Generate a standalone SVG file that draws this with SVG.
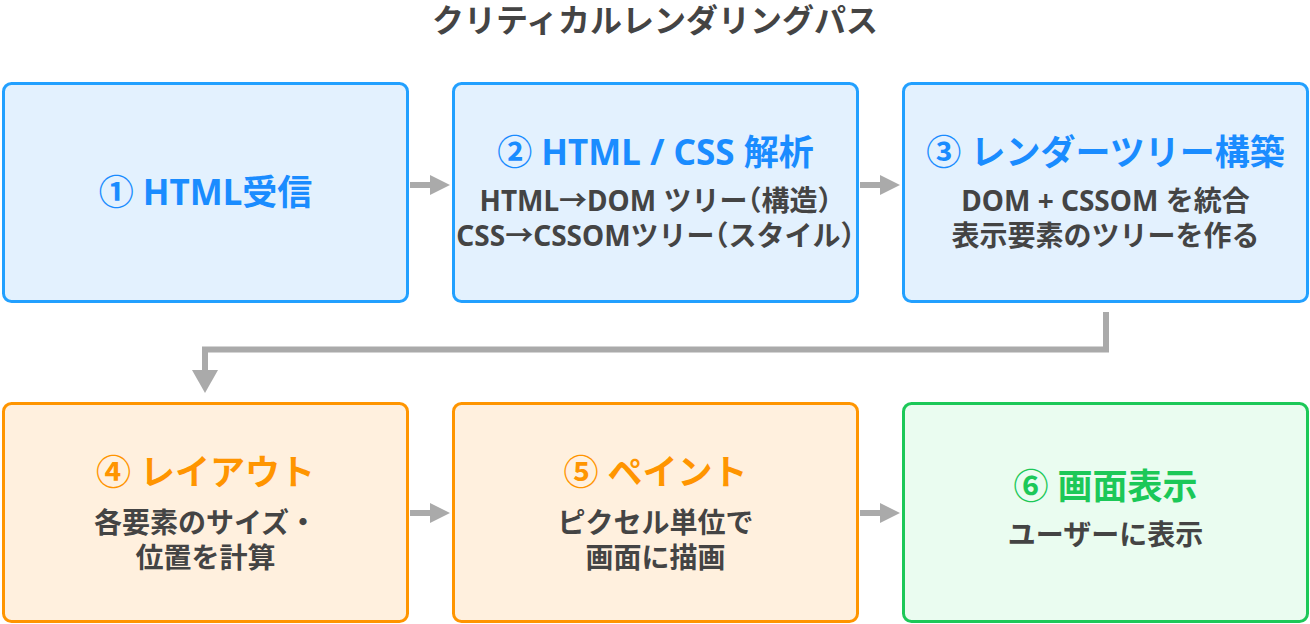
<svg xmlns="http://www.w3.org/2000/svg" width="1310" height="624" viewBox="0 0 1310 624">
<style>
text{font-family:"Noto Sans","Noto Sans CJK JP",sans-serif;font-weight:700;text-anchor:middle}
.title{font-size:32px;fill:#444444;font-family:"Noto Sans CJK JP",sans-serif}
.h{font-size:35px}
.s{font-size:28px;fill:#444444}
.p{font-feature-settings:"halt"}
.blue rect{fill:#E3F1FE;stroke:#22A0FF;stroke-width:3}
.blue .h{fill:#1A8CFF}
.orange rect{fill:#FFF0DE;stroke:#FF9500;stroke-width:3}
.orange .h{fill:#FF9500}
.green rect{fill:#EAFCF0;stroke:#1CC858;stroke-width:3}
.green .h{fill:#1CC858}
.conn path{fill:none;stroke:#AAAAAA;stroke-width:6}
.conn polygon{fill:#AAAAAA}
</style>
<text class="title" x="655" y="32">クリティカルレンダリングパス</text>
<g id="n1" class="blue">
<rect x="3.5" y="83.5" width="404" height="218" rx="8"/>
<text class="h" x="205.5" y="205">① HTML受信</text>
</g>
<g id="n2" class="blue">
<rect x="453.5" y="83.5" width="404" height="218" rx="8"/>
<text class="h" x="655.5" y="165">② HTML / CSS 解析</text>
<text class="s" x="655.5" y="211">HTML→DOM ツリー<tspan class="p">（</tspan>構造<tspan class="p">）</tspan></text>
<text class="s" x="655.5" y="246">CSS→CSSOMツリー<tspan class="p">（</tspan>スタイル<tspan class="p">）</tspan></text>
</g>
<g id="n3" class="blue">
<rect x="903.5" y="83.5" width="404" height="218" rx="8"/>
<text class="h" x="1105.5" y="165">③ レンダーツリー構築</text>
<text class="s" x="1105.5" y="211">DOM + CSSOM を統合</text>
<text class="s" x="1105.5" y="246">表示要素のツリーを作る</text>
</g>
<g id="n4" class="orange">
<rect x="3.5" y="403.5" width="404" height="218" rx="8"/>
<text class="h" x="205.5" y="485">④ レイアウト</text>
<text class="s" x="205.5" y="533">各要素のサイズ・</text>
<text class="s" x="205.5" y="568">位置を計算</text>
</g>
<g id="n5" class="orange">
<rect x="453.5" y="403.5" width="404" height="218" rx="8"/>
<text class="h" x="655.5" y="485">⑤ ペイント</text>
<text class="s" x="655.5" y="533">ピクセル単位で</text>
<text class="s" x="655.5" y="568">画面に描画</text>
</g>
<g id="n6" class="green">
<rect x="903.5" y="403.5" width="404" height="218" rx="8"/>
<text class="h" x="1105.5" y="499">⑥ 画面表示</text>
<text class="s" x="1105.5" y="545">ユーザーに表示</text>
</g>
<g id="connectors" class="conn">
<path d="M410 185H432"/>
<polygon points="430,175 450,185 430,195"/>
<path d="M860 185H882"/>
<polygon points="880,175 900,185 880,195"/>
<path d="M1106 312V349.5H205V372"/>
<polygon points="192,370 218,370 205,393"/>
<path d="M410 513H432"/>
<polygon points="430,503 450,513 430,523"/>
<path d="M860 513H882"/>
<polygon points="880,503 900,513 880,523"/>
</g>
</svg>
